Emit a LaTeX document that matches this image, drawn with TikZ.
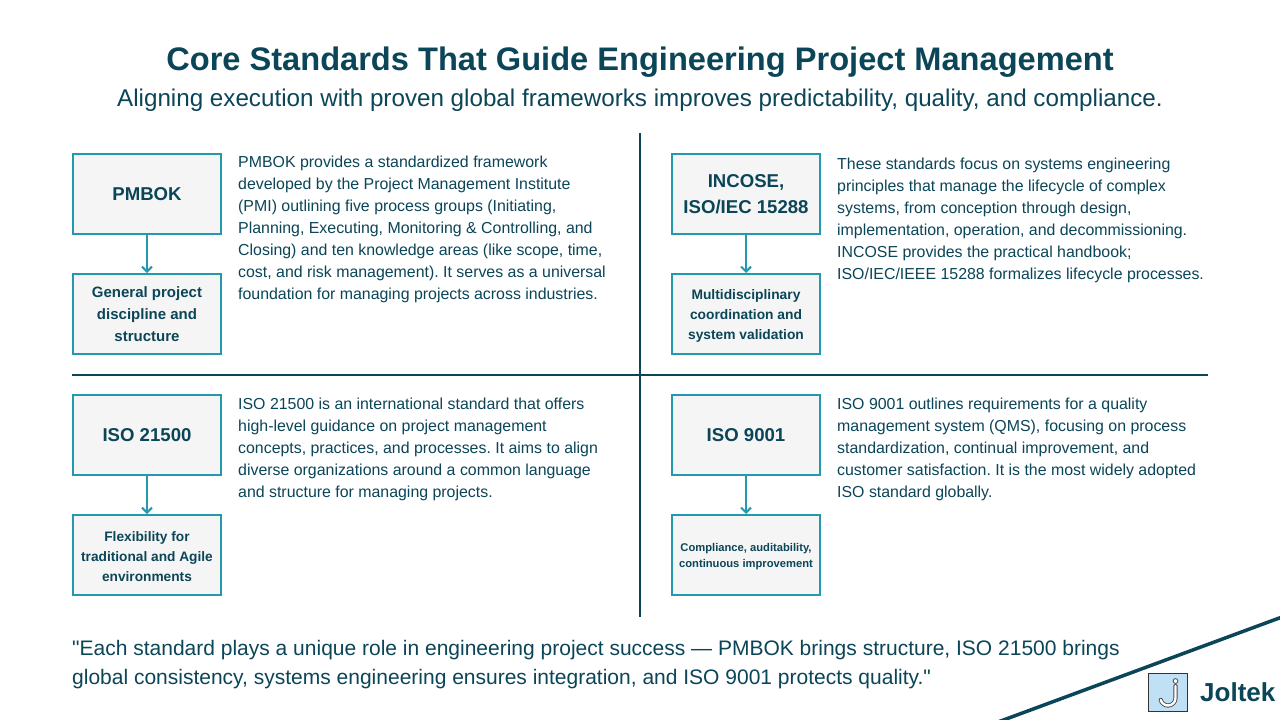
\documentclass[tikz,border=0pt]{standalone}
\usepackage{fontspec}
\setmainfont{Liberation Sans}[Ligatures=TeXOff]
\usetikzlibrary{arrows.meta}
\definecolor{ink}{HTML}{0B4558}
\definecolor{teal}{HTML}{2499AE}
\definecolor{boxfill}{HTML}{F5F5F5}
\definecolor{logofill}{HTML}{BFE0F5}
\newcommand{\fs}[2]{\fontsize{#1pt}{#2pt}\selectfont}
\frenchspacing
\tikzset{
  x=1pt,y=-1pt,
  stdbox/.style={draw=teal,line width=2pt,fill=boxfill,minimum width=148pt,text=ink,font=\bfseries,align=center,inner sep=0pt},
  headbox/.style={stdbox,minimum height=80pt,font=\fs{18.6}{26}\bfseries},
  subbox/.style={stdbox,minimum height=80pt},
  para/.style={anchor=north west,inner sep=0pt,text=ink,align=left,font=\fs{15.9}{22}},
  flow/.style={draw=teal,line width=2pt,-{Straight Barb[length=5pt,width=10pt,line width=2pt]}},
  divider/.style={draw=ink,line width=2pt}
}
\begin{document}
\begin{tikzpicture}
\useasboundingbox (0,0) rectangle (1280,720);
\fill[white] (0,0) rectangle (1280,720);
\node[text=ink,font=\fs{32.6}{40}\bfseries] (title) at (640,62) {Core Standards That Guide Engineering Project Management};
\node[text=ink,font=\fs{24.2}{30}] (subtitle) at (640,100) {Aligning execution with proven global frameworks improves predictability, quality, and compliance.};
\coordinate (vt) at (640,133); \coordinate (vb) at (640,617);
\coordinate (hl) at (72,375); \coordinate (hr) at (1208,375);
\draw[divider] (vt) -- (vb);
\draw[divider] (hl) -- (hr);

\node[headbox] (a1) at (147,194) {PMBOK};
\node[subbox,font=\fs{15}{22}\bfseries] (a2) at (147,314) {General project\\discipline and\\structure};
\draw[flow] (a1) -- (a2);
\node[para] (atext) at (238,156) {PMBOK provides a standardized framework\\developed by the Project Management Institute\\(PMI) outlining five process groups (Initiating,\\Planning, Executing, Monitoring \& Controlling, and\\Closing) and ten knowledge areas (like scope, time,\\cost, and risk management). It serves as a universal\\foundation for managing projects across industries.};

\node[headbox] (b1) at (746,194) {INCOSE,\\ISO/IEC 15288};
\node[subbox,font=\fs{13.8}{20}\bfseries] (b2) at (746,314) {\rule{0pt}{14.5pt}Multidisciplinary\\coordination and\\system validation};
\draw[flow] (b1) -- (b2);
\node[para] (btext) at (837,158) {These standards focus on systems engineering\\principles that manage the lifecycle of complex\\systems, from conception through design,\\implementation, operation, and decommissioning.\\INCOSE provides the practical handbook;\\ISO/IEC/IEEE 15288 formalizes lifecycle processes.};

\node[headbox] (c1) at (147,435) {ISO 21500};
\node[subbox,font=\fs{13.7}{20}\bfseries] (c2) at (147,555) {\rule{0pt}{12.5pt}Flexibility for\\traditional and Agile\\environments};
\draw[flow] (c1) -- (c2);
\node[para] (ctext) at (238,398) {ISO 21500 is an international standard that offers\\high-level guidance on project management\\concepts, practices, and processes. It aims to align\\diverse organizations around a common language\\and structure for managing projects.};

\node[headbox] (d1) at (746,435) {ISO 9001};
\node[subbox,font=\fs{11.2}{16}\bfseries] (d2) at (746,555) {\rule{0pt}{10.5pt}Compliance, auditability,\\continuous improvement};
\draw[flow] (d1) -- (d2);
\node[para] (dtext) at (837,398) {ISO 9001 outlines requirements for a quality\\management system (QMS), focusing on process\\standardization, continual improvement, and\\customer satisfaction. It is the most widely adopted\\ISO standard globally.};

\node[anchor=north west,inner sep=0pt,text=ink,align=left,font=\fs{21}{29}] (quote) at (72,640.5) {"Each standard plays a unique role in engineering project success — PMBOK brings structure, ISO 21500 brings\\global consistency, systems engineering ensures integration, and ISO 9001 protects quality."};

\draw[draw=ink,line width=3.5pt] (998,722) -- (1282,617);
\node[draw=black!80,line width=1pt,fill=logofill,minimum width=39pt,minimum height=38pt,inner sep=0pt] (logo) at (1167.5,692.5) {};
\draw[draw=black!70,line width=4.2pt,line cap=round] (1175.5,686) -- (1175.5,698) arc[start angle=0,end angle=-165,x radius=7.5,y radius=-7.5];
\draw[draw=white,line width=2.4pt,line cap=round] (1175.5,686) -- (1175.5,698) arc[start angle=0,end angle=-165,x radius=7.5,y radius=-7.5];
\draw[draw=black!70,fill=white,line width=.8pt] (1175.5,681) circle[radius=2.4];
\node[anchor=west,inner sep=0pt,text=ink,font=\fs{26}{30}\bfseries] (brand) at (1200,692) {Joltek};
\end{tikzpicture}
\end{document}
